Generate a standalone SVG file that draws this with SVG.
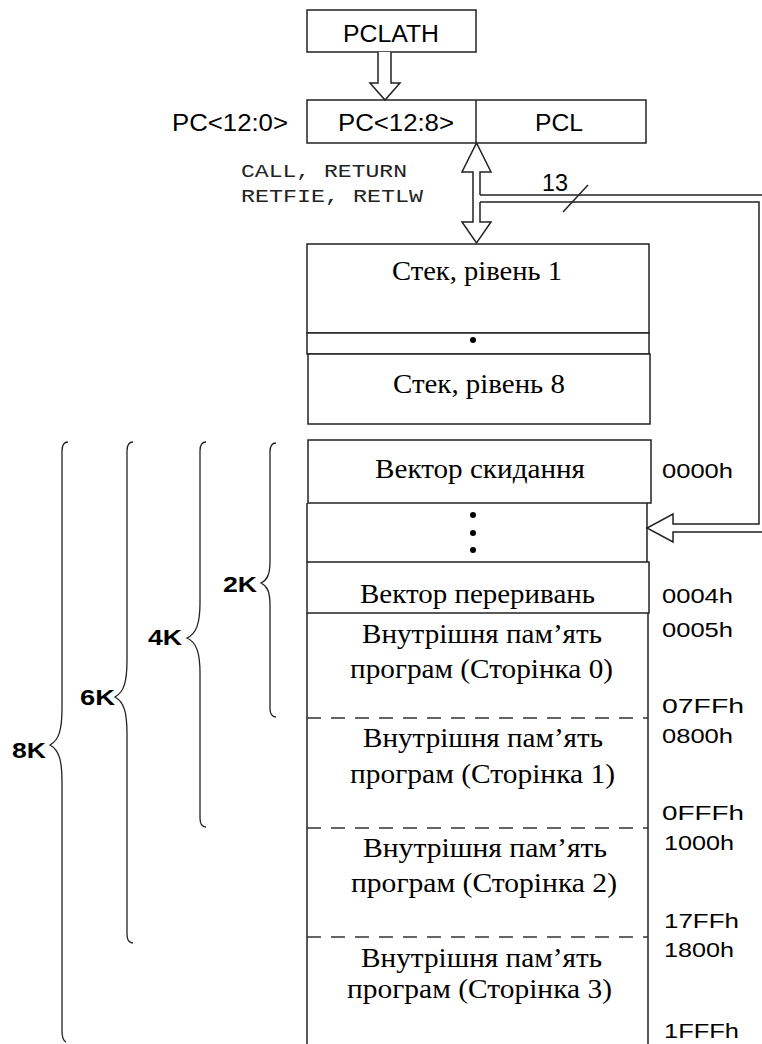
<svg xmlns="http://www.w3.org/2000/svg" width="762" height="1044" viewBox="0 0 762 1044">
<style>
.box{fill:#fff;stroke:#222;stroke-width:1.5}
.ln{fill:none;stroke:#222;stroke-width:1.5}
.dash{fill:none;stroke:#333;stroke-width:1.5;stroke-dasharray:14,10}
.br{fill:none;stroke:#222;stroke-width:1.3}
.sans{font-family:"Liberation Sans",Arial,sans-serif;fill:#000}
.serif{font-family:"Liberation Serif","Times New Roman",serif;fill:#000;font-size:27px}
.mono{font-family:"Liberation Mono","Courier New",monospace;fill:#222;font-size:18px}
.addr{font-family:"Liberation Sans",Arial,sans-serif;font-size:20px;fill:#000}
.kb{font-family:"Liberation Sans",Arial,sans-serif;font-size:22px;font-weight:bold;fill:#000}
</style>
<rect width="762" height="1044" fill="#fff"/>

<g id="pclath">
<rect class="box" x="307" y="10" width="169" height="42"/>
<text class="sans" x="343" y="42" font-size="23" textLength="96" lengthAdjust="spacingAndGlyphs">PCLATH</text>
</g>

<g id="pc">
<rect class="box" x="307" y="100" width="339" height="43"/>
<line class="ln" x1="476" y1="100" x2="476" y2="143"/>
<text class="sans" x="338" y="131" font-size="23" textLength="116" lengthAdjust="spacingAndGlyphs">PC&lt;12:8&gt;</text>
<text class="sans" x="535" y="131" font-size="23" textLength="48" lengthAdjust="spacingAndGlyphs">PCL</text>
<text class="sans" x="172" y="131" font-size="23" textLength="116" lengthAdjust="spacingAndGlyphs">PC&lt;12:0&gt;</text>
</g>

<g id="instr">
<text class="mono" x="241" y="177" textLength="166" lengthAdjust="spacingAndGlyphs">CALL, RETURN</text>
<text class="mono" x="241" y="202" textLength="182" lengthAdjust="spacingAndGlyphs">RETFIE, RETLW</text>
</g>

<g id="stack">
<rect class="box" x="307" y="244" width="342" height="89"/>
<rect class="box" x="307" y="333" width="342" height="21"/>
<circle cx="473" cy="340" r="3" fill="#000"/>
<rect class="box" x="308" y="354" width="342" height="70"/>
<text class="serif" x="392" y="280" textLength="170" lengthAdjust="spacingAndGlyphs">Стек, рівень 1</text>
<text class="serif" x="393" y="393" textLength="172" lengthAdjust="spacingAndGlyphs">Стек, рівень 8</text>
</g>

<g id="memory">
<rect class="box" x="308" y="440" width="343" height="63"/>
<text class="serif" x="375" y="478" textLength="210" lengthAdjust="spacingAndGlyphs">Вектор скидання</text>
<path class="ln" d="M307,503 V562 M647,503 V562"/>
<circle cx="473" cy="515" r="3" fill="#000"/>
<circle cx="473" cy="533" r="3" fill="#000"/>
<circle cx="473" cy="550" r="3" fill="#000"/>
<rect class="box" x="307" y="562" width="342" height="51"/>
<text class="serif" x="360" y="603" textLength="235" lengthAdjust="spacingAndGlyphs">Вектор переривань</text>
<path class="ln" d="M307,613 V1044 M648,613 V1044"/>
<line class="dash" x1="307" y1="718" x2="648" y2="718"/>
<line class="dash" x1="307" y1="828" x2="648" y2="828"/>
<line class="dash" x1="307" y1="937" x2="648" y2="937"/>
<text class="serif" x="362" y="643" textLength="240" lengthAdjust="spacingAndGlyphs">Внутрішня пам’ять</text>
<text class="serif" x="350" y="678" textLength="263" lengthAdjust="spacingAndGlyphs">програм (Сторінка 0)</text>
<text class="serif" x="363" y="747" textLength="240" lengthAdjust="spacingAndGlyphs">Внутрішня пам’ять</text>
<text class="serif" x="350" y="783" textLength="265" lengthAdjust="spacingAndGlyphs">програм (Сторінка 1)</text>
<text class="serif" x="363" y="857" textLength="244" lengthAdjust="spacingAndGlyphs">Внутрішня пам’ять</text>
<text class="serif" x="351" y="892" textLength="266" lengthAdjust="spacingAndGlyphs">програм (Сторінка 2)</text>
<text class="serif" x="361" y="967" textLength="241" lengthAdjust="spacingAndGlyphs">Внутрішня пам’ять</text>
<text class="serif" x="347" y="998" textLength="265" lengthAdjust="spacingAndGlyphs">програм (Сторінка 3)</text>
</g>

<g id="addresses">
<text class="addr" x="662" y="478" textLength="71" lengthAdjust="spacingAndGlyphs">0000h</text>
<text class="addr" x="662" y="603" textLength="71" lengthAdjust="spacingAndGlyphs">0004h</text>
<text class="addr" x="662" y="637" textLength="71" lengthAdjust="spacingAndGlyphs">0005h</text>
<text class="addr" x="662" y="713" textLength="82" lengthAdjust="spacingAndGlyphs">07FFh</text>
<text class="addr" x="662" y="743" textLength="71" lengthAdjust="spacingAndGlyphs">0800h</text>
<text class="addr" x="662" y="820" textLength="82" lengthAdjust="spacingAndGlyphs">0FFFh</text>
<text class="addr" x="664" y="850" textLength="70" lengthAdjust="spacingAndGlyphs">1000h</text>
<text class="addr" x="664" y="928" textLength="75" lengthAdjust="spacingAndGlyphs">17FFh</text>
<text class="addr" x="664" y="957" textLength="70" lengthAdjust="spacingAndGlyphs">1800h</text>
<text class="addr" x="664" y="1038" textLength="75" lengthAdjust="spacingAndGlyphs">1FFFh</text>
</g>

<g id="brace-2k">
<path class="br" d="M276,443 Q270,443 270,452 V561 C270,575 267,580 261,583 C267,586 270,591 270,605 V708 Q270,717 276,717"/>
<text class="kb" x="223" y="592" textLength="34" lengthAdjust="spacingAndGlyphs">2K</text>
</g>
<g id="brace-4k">
<path class="br" d="M206,442 Q200,442 200,451 V603 C200,624 196,634 187,638 C196,642 200,652 200,673 V818 Q200,827 206,827"/>
<text class="kb" x="148" y="645" textLength="34" lengthAdjust="spacingAndGlyphs">4K</text>
</g>
<g id="brace-6k">
<path class="br" d="M133,442 Q127,442 127,451 V660 C127,682 124,692 115,697 C124,702 127,712 127,734 V934 Q127,943 133,943"/>
<text class="kb" x="80" y="705" textLength="35" lengthAdjust="spacingAndGlyphs">6K</text>
</g>
<g id="brace-8k">
<path class="br" d="M68,442 Q62,442 62,451 V708 C62,730 59,740 50,745 C59,750 62,760 62,782 V1031 Q62,1040 66,1042"/>
<text class="kb" x="12" y="758" textLength="34" lengthAdjust="spacingAndGlyphs">8K</text>
</g>

<g id="connectors">
<path class="box" d="M378,52 V83 H370 L385,100 L400,83 H391 V52"/>
<path class="box" d="M480,195 V172 H491 L476.5,143 L462,172 H473 V222 H462 L476.5,243 L491,222 H480 V202"/>
<path class="ln" d="M480,195 H763"/>
<path class="ln" d="M480,202 H759 V524 H673 V514 L647,528 L673,542 V532 H763"/>
<line class="ln" x1="563" y1="212" x2="588" y2="185"/>
<text class="sans" x="542" y="191" font-size="23" textLength="26" lengthAdjust="spacingAndGlyphs">13</text>
</g>
</svg>
